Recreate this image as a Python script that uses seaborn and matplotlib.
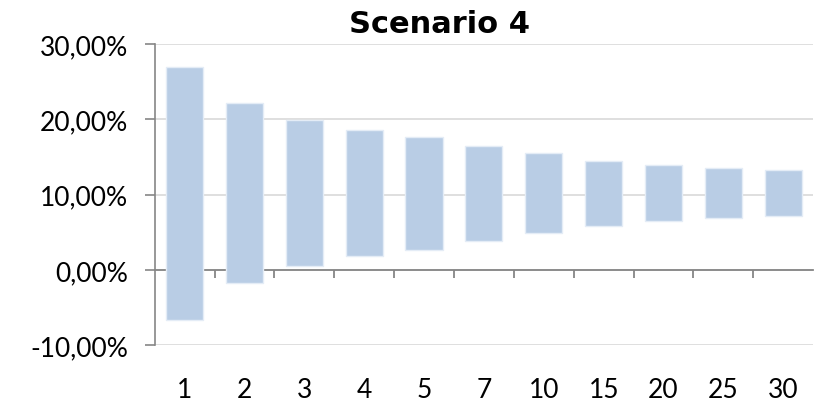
import matplotlib
matplotlib.use("Agg")
import matplotlib.pyplot as plt
from matplotlib.ticker import FuncFormatter
import seaborn as sns
import numpy as np
import pandas as pd

# horizon (years) and the low / high ends of each range bar (in %)
horizons = ["1", "2", "3", "4", "5", "7", "10", "15", "20", "25", "30"]
low = [-6.65, -1.7, 0.5, 1.8, 2.65, 3.8, 4.9, 5.85, 6.5, 6.85, 7.15]
high = [27.0, 22.1, 19.9, 18.6, 17.7, 16.5, 15.5, 14.5, 13.9, 13.5, 13.3]

df = pd.DataFrame({"Horizon": horizons, "Low": low, "High": high})
df["Span"] = df["High"] - df["Low"]

sns.set_style("white")
plt.rcParams["font.family"] = ["Lato", "DejaVu Sans"]

fig = plt.figure(figsize=(8.14, 4.02), dpi=100)
ax = fig.add_axes([0.19, 0.139, 0.809, 0.749])

sns.barplot(
    data=df,
    x="Horizon",
    y="Span",
    order=horizons,
    bottom=df["Low"].values,
    color="#b9cde5",
    saturation=1,
    width=0.62,
    edgecolor="#e4ecf6",
    linewidth=1,
    ax=ax,
)

ymin, ymax = -10, 30
ax.set_xlim(-0.5, len(horizons) - 0.5)
ax.set_ylim(ymin, ymax)
ax.set_yticks([-10, 0, 10, 20, 30])
ax.yaxis.set_major_formatter(
    FuncFormatter(lambda v, p: ("%.2f%%" % v).replace(".", ","))
)
ax.yaxis.grid(True, color="#d9d9d9", linewidth=1.2)
ax.set_axisbelow(True)
ax.set_xlabel("")
ax.set_ylabel("")

for s in ["top", "right", "bottom"]:
    ax.spines[s].set_visible(False)
ax.spines["left"].set_color("#868686")
ax.spines["left"].set_linewidth(1.2)
ax.tick_params(axis="x", length=0, pad=23, labelsize=19, labelcolor="black")
ax.tick_params(axis="y", length=7, width=1.2, color="#868686", direction="out",
               labelsize=19, pad=12, left=True, labelcolor="black")

# category axis line at 0 with tick marks between the categories
sec = ax.secondary_xaxis((0 - ymin) / (ymax - ymin))
sec.set_zorder(0.8)
sec.set_xticks(np.arange(0.5, len(horizons) - 1, 1))
sec.tick_params(axis="x", bottom=True, labelbottom=False, length=6, width=1.3,
                color="#868686", direction="out")
sec.spines["bottom"].set_color("#868686")
sec.spines["bottom"].set_linewidth(1.3)

fig.text(0.54, 0.94, "Scenario 4", ha="center", va="center",
         fontsize=22, fontweight="bold", family="DejaVu Sans", color="black")

fig.savefig("out.png", dpi=100)
